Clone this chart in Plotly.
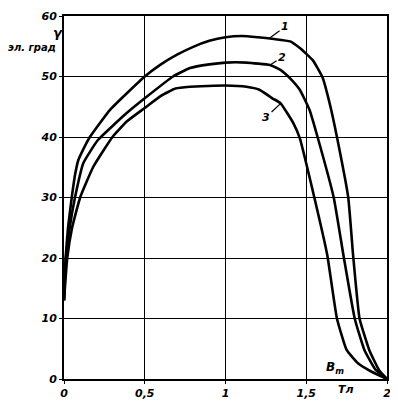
import plotly.graph_objects as go

# Curve data (x = Bm, Тл ; y = γ, эл. град)
x1 = [0, 0.01, 0.025, 0.048, 0.07, 0.089, 0.12, 0.16, 0.285, 0.5, 0.6, 0.7, 0.8, 0.9, 1.0, 1.1,
      1.2, 1.3, 1.4, 1.46, 1.54, 1.60, 1.65, 1.69, 1.76, 1.79, 1.83, 1.89, 1.95, 2.0]
y1 = [13, 20, 25, 30, 34, 36.2, 38, 40, 44.5, 50, 52, 53.6, 54.9, 55.9, 56.5, 56.7,
      56.5, 56.2, 55.8, 54.7, 52.7, 49.9, 45, 40, 30, 20.5, 10, 4.8, 1.5, 0]

x2 = [0, 0.012, 0.035, 0.068, 0.12, 0.21, 0.39, 0.5, 0.675, 0.78, 0.9, 1.0, 1.13, 1.275, 1.34, 1.40,
      1.46, 1.52, 1.57, 1.67, 1.73, 1.80, 1.86, 1.93, 2.0]
y2 = [13, 20, 25, 30, 35.7, 39.5, 44, 46.4, 50, 51.4, 52.0, 52.3, 52.3, 51.9, 51.1, 49.7,
      47.8, 44.5, 40, 30, 20.5, 10, 4.8, 1.5, 0]

x3 = [0, 0.02, 0.05, 0.1, 0.18, 0.30, 0.39, 0.5, 0.6, 0.69, 0.78, 1.0, 1.13, 1.21, 1.29, 1.34,
      1.42, 1.46, 1.55, 1.63, 1.69, 1.75, 1.82, 1.905, 2.0]
y3 = [13, 20, 25, 30, 35, 40, 42.6, 44.8, 46.8, 48.0, 48.3, 48.5, 48.3, 47.8, 46.4, 45.6,
      42.3, 39.8, 30, 20.5, 10, 4.8, 2.6, 1.2, 0]

x_tickvals = [0, 0.5, 1, 1.5, 2]
x_ticktext = ["0", "0,5", "1", "1,5", "2"]
y_tickvals = [0, 10, 20, 30, 40, 50, 60]
y_ticktext = ["0", "10", "20", "30", "40", "50", "60"]

curve_labels = ["1", "2", "3"]

FONT = "DejaVu Sans"
lab_font = dict(family=FONT, size=11, color="black", style="italic", weight="bold")

fig = go.Figure()
for xs, ys in [(x1, y1), (x2, y2), (x3, y3)]:
    fig.add_trace(go.Scatter(x=xs, y=ys, mode="lines",
                             line=dict(color="black", width=2.6, shape="spline", smoothing=0.4),
                             showlegend=False, hoverinfo="skip"))

axis_common = dict(showline=True, linecolor="black", linewidth=2, mirror=True,
                   showgrid=True, gridcolor="black", gridwidth=1.2,
                   zeroline=False, ticks="outside", ticklen=3, tickcolor="black",
                   tickfont=lab_font, automargin=False)

fig.update_xaxes(range=[0, 2], tickvals=x_tickvals, ticktext=x_ticktext, **axis_common)
fig.update_yaxes(range=[0, 60], tickvals=y_tickvals, ticktext=y_ticktext, **axis_common)

# curve number labels with leader lines
label_pts = [(1.276, 56.4, 15, -11), (1.276, 51.9, 12, -8), (1.344, 45.6, -15, 14)]
for lab, (px, py, ax, ay) in zip(curve_labels, label_pts):
    fig.add_annotation(x=px, y=py, text=lab, showarrow=True, arrowhead=0, arrowwidth=1.2,
                       arrowcolor="black", ax=ax, ay=ay, standoff=0, font=lab_font)

# axis titles
fig.add_annotation(xref="paper", yref="paper", x=-0.04, y=0.982, text="γ", showarrow=False,
                   font=dict(family=FONT, size=13, color="black", style="italic", weight="bold"))
fig.add_annotation(xref="paper", yref="paper", x=-0.019, y=0.934, text="эл. град", showarrow=False,
                   xanchor="right", font=dict(family=FONT, size=10, color="black", style="italic", weight="bold"))
fig.add_annotation(x=1.68, y=1.8, text="B<sub>m</sub>", showarrow=False,
                   font=dict(family=FONT, size=12, color="black", style="italic", weight="bold"))
fig.add_annotation(xref="x", yref="paper", x=1.746, y=-0.03, yanchor="middle", text="Тл", showarrow=False,
                   font=lab_font)

# page body has an 8 px margin: size the figure so it fits the 398x410 window
fig.update_layout(width=390, height=394, margin=dict(l=56, r=11, t=8, b=23),
                  paper_bgcolor="white", plot_bgcolor="white")

fig.write_html("out.html")
